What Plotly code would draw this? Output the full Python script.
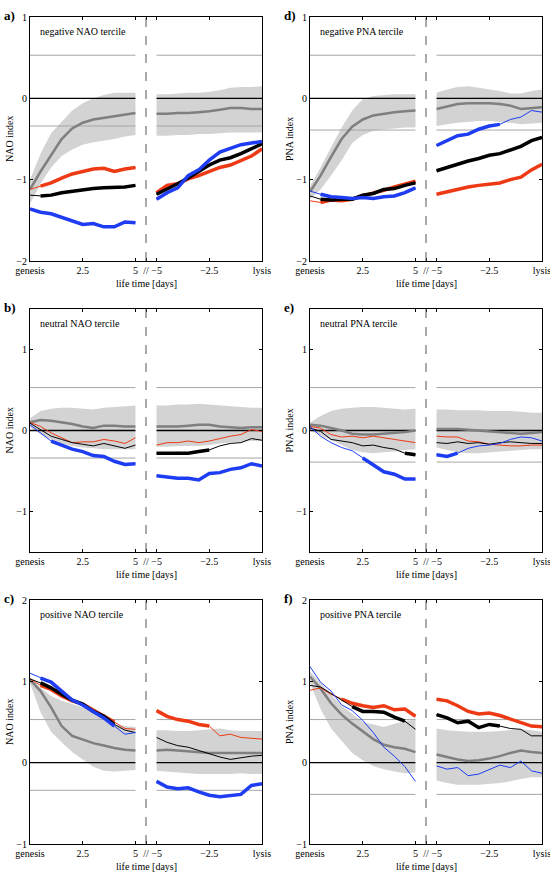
import plotly.graph_objects as go

W, H = 550, 879
FONT = "Liberation Serif, Times New Roman, serif"

# time axes: 11 points from genesis, 11 points before lysis
T_LEFT = [0, 0.5, 1, 1.5, 2, 2.5, 3, 3.5, 4, 4.5, 5]
T_RIGHT = [-5, -4.5, -4, -3.5, -3, -2.5, -2, -1.5, -1, -0.5, 0]
GAP_END = 11  # right block plotted at 11 + t
X_POS = T_LEFT + [GAP_END + t for t in T_RIGHT]

TICK_VALS = [0, 2.5, 5, 5.5, 6, 8.5, 11]
TICK_TEXT = ["genesis", "2.5", "5", "//", "\u22125", "\u22122.5", "lysis"]

NAO_UP, NAO_LO = 0.53, -0.34
PNA_UP, PNA_LO = 0.53, -0.39

# ---------------- panel a: negative NAO tercile ----------------
a_band_hi = [-1.00, -0.68, -0.43, -0.29, -0.15, -0.06, 0.00, 0.04, 0.07, 0.07, 0.07,
             0.05, 0.05, 0.06, 0.07, 0.07, 0.08, 0.10, 0.13, 0.14, 0.14, 0.15]
a_band_lo = [-1.30, -1.05, -0.85, -0.71, -0.63, -0.57, -0.54, -0.52, -0.50, -0.47, -0.45,
             -0.46, -0.46, -0.45, -0.45, -0.44, -0.44, -0.43, -0.42, -0.42, -0.42, -0.42]
a_mean = [-1.12, -0.90, -0.70, -0.50, -0.37, -0.30, -0.26, -0.24, -0.22, -0.20, -0.18,
          -0.19, -0.19, -0.18, -0.18, -0.17, -0.16, -0.14, -0.12, -0.12, -0.13, -0.13]
a_red = [-1.12, -1.08, -1.04, -0.98, -0.93, -0.90, -0.87, -0.86, -0.90, -0.87, -0.85,
         -1.16, -1.07, -1.05, -0.99, -0.95, -0.90, -0.85, -0.82, -0.77, -0.71, -0.62]
a_black = [-1.19, -1.20, -1.19, -1.16, -1.14, -1.13, -1.11, -1.10, -1.10, -1.09, -1.07,
           -1.18, -1.12, -1.05, -0.98, -0.90, -0.82, -0.76, -0.73, -0.68, -0.62, -0.56]
a_blue = [-1.36, -1.40, -1.42, -1.46, -1.50, -1.55, -1.54, -1.58, -1.58, -1.52, -1.53,
          -1.24, -1.16, -1.10, -0.95, -0.88, -0.76, -0.66, -0.62, -0.57, -0.55, -0.53]
a_red_sig = [0] + [1] * 21
a_black_sig = [0, 1] + [1] * 20
a_blue_sig = [1] * 22

# ---------------- panel b: neutral NAO tercile ----------------
b_band_hi = [0.15, 0.24, 0.27, 0.28, 0.28, 0.27, 0.26, 0.28, 0.29, 0.30, 0.31,
             0.31, 0.31, 0.32, 0.32, 0.33, 0.32, 0.31, 0.30, 0.29, 0.28, 0.28]
b_band_lo = [0.04, -0.05, -0.11, -0.16, -0.19, -0.21, -0.22, -0.23, -0.23, -0.23, -0.23,
             -0.20, -0.20, -0.19, -0.19, -0.19, -0.18, -0.16, -0.15, -0.14, -0.13, -0.13]
b_mean = [0.10, 0.13, 0.12, 0.10, 0.08, 0.05, 0.03, 0.06, 0.06, 0.05, 0.05,
          0.05, 0.05, 0.05, 0.06, 0.07, 0.07, 0.05, 0.04, 0.03, 0.04, 0.04]
b_red = [0.10, 0.05, -0.03, -0.09, -0.15, -0.14, -0.14, -0.11, -0.13, -0.16, -0.09,
         -0.18, -0.15, -0.15, -0.13, -0.15, -0.13, -0.10, -0.07, -0.05, 0.01, -0.01]
b_black = [0.09, 0.01, -0.07, -0.11, -0.15, -0.17, -0.19, -0.16, -0.19, -0.22, -0.18,
           -0.28, -0.28, -0.27, -0.28, -0.26, -0.24, -0.19, -0.16, -0.15, -0.10, -0.12]
b_blue = [0.07, -0.03, -0.13, -0.18, -0.23, -0.26, -0.31, -0.32, -0.38, -0.42, -0.41,
          -0.56, -0.58, -0.59, -0.59, -0.61, -0.53, -0.52, -0.48, -0.46, -0.41, -0.44]
b_red_sig = [0] * 22
b_black_sig = [0] * 11 + [1] * 6 + [0] * 5
b_blue_sig = [0, 0] + [1] * 20

# ---------------- panel c: positive NAO tercile ----------------
c_band_hi = [1.05, 0.92, 0.82, 0.76, 0.72, 0.68, 0.64, 0.57, 0.47, 0.45, 0.44,
             0.40, 0.40, 0.39, 0.39, 0.40, 0.41, 0.42, 0.40, 0.39, 0.39, 0.39]
c_band_lo = [0.98, 0.62, 0.38, 0.25, 0.13, 0.04, -0.05, -0.10, -0.11, -0.10, -0.09,
             -0.10, -0.11, -0.12, -0.13, -0.14, -0.14, -0.14, -0.14, -0.13, -0.14, -0.14]
c_mean = [1.02, 0.88, 0.68, 0.45, 0.33, 0.28, 0.24, 0.21, 0.18, 0.16, 0.15,
          0.15, 0.16, 0.15, 0.14, 0.13, 0.12, 0.12, 0.12, 0.12, 0.12, 0.12]
c_red = [1.03, 0.95, 0.90, 0.82, 0.76, 0.72, 0.65, 0.58, 0.50, 0.42, 0.41,
         0.64, 0.57, 0.53, 0.51, 0.47, 0.45, 0.33, 0.35, 0.31, 0.30, 0.29]
c_black = [1.03, 0.98, 0.92, 0.84, 0.77, 0.72, 0.63, 0.57, 0.47, 0.40, 0.37,
           0.31, 0.25, 0.21, 0.19, 0.15, 0.11, 0.07, 0.04, 0.06, 0.08, 0.09]
c_blue = [1.10, 1.04, 0.99, 0.88, 0.77, 0.71, 0.63, 0.55, 0.45, 0.35, 0.37,
          -0.23, -0.30, -0.32, -0.31, -0.36, -0.40, -0.42, -0.41, -0.39, -0.28, -0.26]
c_red_sig = [0] + [1] * 8 + [0, 0] + [1] * 6 + [0] * 5
c_black_sig = [0] + [1] * 8 + [0, 0] + [0] * 11
c_blue_sig = [0] + [1] * 8 + [0, 0] + [1] * 11

# ---------------- panel d: negative PNA tercile ----------------
d_band_hi = [-1.08, -0.85, -0.60, -0.36, -0.15, -0.01, 0.03, 0.04, 0.05, 0.05, 0.05,
             0.07, 0.11, 0.14, 0.15, 0.13, 0.11, 0.09, 0.06, 0.06, 0.09, 0.11]
d_band_lo = [-1.24, -1.12, -0.95, -0.76, -0.55, -0.45, -0.40, -0.38, -0.37, -0.36, -0.36,
             -0.34, -0.32, -0.30, -0.29, -0.28, -0.28, -0.29, -0.30, -0.32, -0.31, -0.30]
d_mean = [-1.15, -0.95, -0.72, -0.50, -0.35, -0.26, -0.21, -0.19, -0.17, -0.16, -0.15,
          -0.13, -0.10, -0.07, -0.06, -0.06, -0.06, -0.07, -0.09, -0.13, -0.12, -0.11]
d_red = [-1.26, -1.28, -1.25, -1.26, -1.24, -1.20, -1.17, -1.13, -1.09, -1.05, -1.02,
         -1.18, -1.15, -1.11, -1.09, -1.07, -1.06, -1.04, -1.00, -0.97, -0.88, -0.81]
d_black = [-1.20, -1.24, -1.25, -1.24, -1.24, -1.19, -1.17, -1.12, -1.11, -1.07, -1.04,
           -0.89, -0.85, -0.80, -0.77, -0.74, -0.70, -0.68, -0.63, -0.59, -0.52, -0.48]
d_blue = [-1.14, -1.18, -1.21, -1.22, -1.23, -1.22, -1.23, -1.21, -1.20, -1.16, -1.10,
          -0.58, -0.52, -0.46, -0.44, -0.38, -0.34, -0.32, -0.26, -0.23, -0.15, -0.17]
d_red_sig = [0] + [1] * 21
d_black_sig = [0] + [1] * 21
d_blue_sig = [0] + [1] * 10 + [1] * 7 + [0] * 4

# ---------------- panel e: neutral PNA tercile ----------------
e_band_hi = [0.10, 0.18, 0.24, 0.27, 0.28, 0.29, 0.29, 0.28, 0.27, 0.26, 0.27,
             0.26, 0.26, 0.25, 0.25, 0.25, 0.24, 0.24, 0.24, 0.23, 0.22, 0.22]
e_band_lo = [0.00, -0.06, -0.12, -0.18, -0.24, -0.27, -0.28, -0.27, -0.26, -0.24, -0.23,
             -0.21, -0.24, -0.27, -0.28, -0.28, -0.27, -0.26, -0.25, -0.24, -0.23, -0.23]
e_mean = [0.07, 0.06, 0.03, 0.00, -0.04, -0.05, -0.05, -0.04, -0.03, -0.02, 0.00,
          0.02, 0.02, 0.02, 0.01, 0.00, -0.01, -0.02, -0.03, -0.04, -0.03, -0.02]
e_red = [0.05, 0.03, -0.05, -0.08, -0.07, -0.09, -0.07, -0.09, -0.11, -0.13, -0.15,
         -0.07, -0.08, -0.08, -0.13, -0.14, -0.17, -0.18, -0.19, -0.19, -0.18, -0.18]
e_black = [0.03, -0.01, -0.11, -0.13, -0.15, -0.19, -0.18, -0.21, -0.23, -0.28, -0.30,
           -0.15, -0.16, -0.14, -0.16, -0.15, -0.17, -0.15, -0.14, -0.15, -0.16, -0.16]
e_blue = [0.05, -0.07, -0.15, -0.21, -0.25, -0.34, -0.42, -0.51, -0.54, -0.60, -0.60,
          -0.30, -0.32, -0.28, -0.22, -0.19, -0.18, -0.16, -0.11, -0.08, -0.09, -0.13]
e_red_sig = [0] * 22
e_black_sig = [0] * 9 + [1, 1] + [0] * 11
e_blue_sig = [0] * 5 + [1] * 6 + [1, 1, 1] + [0] * 8

# ---------------- panel f: positive PNA tercile ----------------
f_band_hi = [1.12, 0.98, 0.83, 0.70, 0.60, 0.50, 0.47, 0.44, 0.48, 0.51, 0.53,
             0.42, 0.40, 0.39, 0.38, 0.38, 0.38, 0.39, 0.40, 0.41, 0.40, 0.38]
f_band_lo = [0.98, 0.66, 0.42, 0.27, 0.12, 0.03, -0.04, -0.08, -0.11, -0.13, -0.12,
             -0.22, -0.25, -0.27, -0.27, -0.27, -0.26, -0.25, -0.23, -0.20, -0.18, -0.18]
f_mean = [1.06, 0.91, 0.73, 0.59, 0.48, 0.38, 0.29, 0.22, 0.19, 0.17, 0.13,
          0.10, 0.07, 0.04, 0.02, 0.03, 0.05, 0.08, 0.12, 0.15, 0.13, 0.12]
f_red = [0.89, 0.92, 0.84, 0.78, 0.73, 0.70, 0.68, 0.70, 0.65, 0.66, 0.57,
         0.78, 0.76, 0.70, 0.63, 0.60, 0.61, 0.58, 0.54, 0.49, 0.45, 0.44]
f_black = [0.95, 0.93, 0.85, 0.77, 0.69, 0.63, 0.63, 0.62, 0.56, 0.51, 0.41,
           0.59, 0.55, 0.49, 0.51, 0.43, 0.47, 0.45, 0.42, 0.41, 0.33, 0.33]
f_blue = [1.18, 0.99, 0.88, 0.71, 0.64, 0.52, 0.37, 0.19, 0.08, -0.05, -0.23,
          -0.04, -0.08, -0.06, -0.16, -0.14, -0.08, -0.03, -0.06, 0.02, -0.10, -0.13]
f_red_sig = [0, 0, 0] + [1] * 8 + [1] * 11
f_black_sig = [0] * 4 + [1] * 6 + [0] + [1] * 7 + [0] * 4
f_blue_sig = [0] * 22

RED = "#ee3a14"
BLUE = "#1e3cf2"
BLACK = "#000000"
BAND = "#d3d3d3"
MEAN = "#7f7f7f"
TERC = "#a6a6a6"

COL_X = [(30, 262), (310, 542)]
ROW_Y = [(17, 261), (309, 552), (600, 844)]

PANELS = [
    dict(letter="a)", col=0, row=0, yr=[-2, 1], yt=[-2, -1, 0, 1], ylab="NAO index",
         title="negative NAO tercile", up=NAO_UP, lo=NAO_LO, band_hi=a_band_hi, band_lo=a_band_lo,
         mean=a_mean, lines=[(a_red, a_red_sig, RED), (a_black, a_black_sig, BLACK), (a_blue, a_blue_sig, BLUE)]),
    dict(letter="b)", col=0, row=1, yr=[-1.5, 1.5], yt=[-1, 0, 1], ylab="NAO index",
         title="neutral NAO tercile", up=NAO_UP, lo=NAO_LO, band_hi=b_band_hi, band_lo=b_band_lo,
         mean=b_mean, lines=[(b_red, b_red_sig, RED), (b_black, b_black_sig, BLACK), (b_blue, b_blue_sig, BLUE)]),
    dict(letter="c)", col=0, row=2, yr=[-1, 2], yt=[-1, 0, 1, 2], ylab="NAO index",
         title="positive NAO tercile", up=NAO_UP, lo=NAO_LO, band_hi=c_band_hi, band_lo=c_band_lo,
         mean=c_mean, lines=[(c_red, c_red_sig, RED), (c_black, c_black_sig, BLACK), (c_blue, c_blue_sig, BLUE)]),
    dict(letter="d)", col=1, row=0, yr=[-2, 1], yt=[-2, -1, 0, 1], ylab="PNA index",
         title="negative PNA tercile", up=PNA_UP, lo=PNA_LO, band_hi=d_band_hi, band_lo=d_band_lo,
         mean=d_mean, lines=[(d_red, d_red_sig, RED), (d_black, d_black_sig, BLACK), (d_blue, d_blue_sig, BLUE)]),
    dict(letter="e)", col=1, row=1, yr=[-1.5, 1.5], yt=[-1, 0, 1], ylab="PNA index",
         title="neutral PNA tercile", up=PNA_UP, lo=PNA_LO, band_hi=e_band_hi, band_lo=e_band_lo,
         mean=e_mean, lines=[(e_red, e_red_sig, RED), (e_black, e_black_sig, BLACK), (e_blue, e_blue_sig, BLUE)]),
    dict(letter="f)", col=1, row=2, yr=[-1, 2], yt=[-1, 0, 1, 2], ylab="PNA index",
         title="positive PNA tercile", up=PNA_UP, lo=PNA_LO, band_hi=f_band_hi, band_lo=f_band_lo,
         mean=f_mean, lines=[(f_red, f_red_sig, RED), (f_black, f_black_sig, BLACK), (f_blue, f_blue_sig, BLUE)]),
]

SEGMENTS = [list(range(0, 11)), list(range(11, 22))]

fig = go.Figure()
layout = dict(width=W, height=H, margin=dict(l=0, r=0, t=0, b=0, pad=0, autoexpand=False),
              paper_bgcolor="white", plot_bgcolor="white", showlegend=False,
              font=dict(family=FONT, size=10, color="black"))
annotations = []
shapes = []

for i, p in enumerate(PANELS):
    n = i + 1
    xa = "x" if n == 1 else f"x{n}"
    ya = "y" if n == 1 else f"y{n}"
    x0, x1 = COL_X[p["col"]]
    y0, y1 = ROW_Y[p["row"]]

    layout[f"xaxis{'' if n == 1 else n}"] = dict(
        domain=[x0 / W, x1 / W], range=[X_POS[0], X_POS[-1]], anchor=ya, automargin=False,
        showline=True, linecolor="black", linewidth=1, mirror="ticks",
        ticks="inside", ticklen=3, tickcolor="black", tickvals=TICK_VALS, ticktext=TICK_TEXT,
        tickangle=0, ticklabeloverflow="allow", showgrid=False, zeroline=False,
        tickfont=dict(family=FONT, size=10))
    layout[f"yaxis{'' if n == 1 else n}"] = dict(
        domain=[1 - y1 / H, 1 - y0 / H], range=p["yr"], anchor=xa, automargin=False,
        showline=True, linecolor="black", linewidth=1, mirror="ticks",
        ticks="inside", ticklen=3, tickcolor="black", tickvals=p["yt"],
        showgrid=False, zeroline=False, tickfont=dict(family=FONT, size=10))

    # shaded band per segment
    for seg in SEGMENTS:
        xs = [X_POS[j] for j in seg]
        hi = [p["band_hi"][j] for j in seg]
        lo = [p["band_lo"][j] for j in seg]
        fig.add_trace(go.Scatter(x=xs + xs[::-1], y=hi + lo[::-1], fill="toself", fillcolor=BAND,
                                 line=dict(width=0), mode="lines", hoverinfo="skip",
                                 xaxis=xa, yaxis=ya))
    # tercile and zero lines (broken at gap)
    hx = [X_POS[0], X_POS[10], None, X_POS[11], X_POS[21]]
    for val, col, wd in [(p["up"], TERC, 1), (p["lo"], TERC, 1), (0, BLACK, 1.3)]:
        fig.add_trace(go.Scatter(x=hx, y=[val, val, None, val, val], mode="lines",
                                 line=dict(color=col, width=wd), hoverinfo="skip",
                                 xaxis=xa, yaxis=ya))
    # mean of all cyclones
    for seg in SEGMENTS:
        fig.add_trace(go.Scatter(x=[X_POS[j] for j in seg], y=[p["mean"][j] for j in seg],
                                 mode="lines", line=dict(color=MEAN, width=2.5),
                                 xaxis=xa, yaxis=ya))
    # colored composites: thin everywhere, thick where significant
    for vals, sig, col in p["lines"]:
        for seg in SEGMENTS:
            xs = [X_POS[j] for j in seg]
            fig.add_trace(go.Scatter(x=xs, y=[vals[j] for j in seg], mode="lines",
                                     line=dict(color=col, width=1), xaxis=xa, yaxis=ya))
            fig.add_trace(go.Scatter(x=xs, y=[vals[j] if sig[j] else None for j in seg],
                                     mode="lines", line=dict(color=col, width=3.5),
                                     connectgaps=False, xaxis=xa, yaxis=ya))

    shapes.append(dict(type="line", xref=xa, yref=f"{ya} domain", x0=5.5, x1=5.5, y0=0, y1=1,
                       line=dict(color="#555555", width=1, dash="dash")))

    annotations.append(dict(text=f"<b>{p['letter']}</b>", xref="paper", yref="paper",
                            x=(x0 - 28) / W, y=1 - (y0 - 2) / H, xanchor="left", yanchor="middle",
                            showarrow=False, font=dict(family=FONT, size=13)))
    annotations.append(dict(text=p["title"], xref="paper", yref="paper",
                            x=(x0 + 8) / W, y=1 - (y0 + 14) / H, xanchor="left", yanchor="middle",
                            showarrow=False, font=dict(family=FONT, size=10)))
    annotations.append(dict(text=p["ylab"], xref="paper", yref="paper", textangle=-90,
                            x=(x0 - 21) / W, y=1 - ((y0 + y1) / 2) / H, xanchor="center", yanchor="middle",
                            showarrow=False, font=dict(family=FONT, size=10)))
    annotations.append(dict(text="life time [days]", xref="paper", yref="paper",
                            x=((x0 + x1) / 2) / W, y=1 - (y1 + 22) / H, xanchor="center", yanchor="middle",
                            showarrow=False, font=dict(family=FONT, size=10)))

layout["annotations"] = annotations
layout["shapes"] = shapes
fig.update_layout(**layout)
fig.write_html("out.html")
